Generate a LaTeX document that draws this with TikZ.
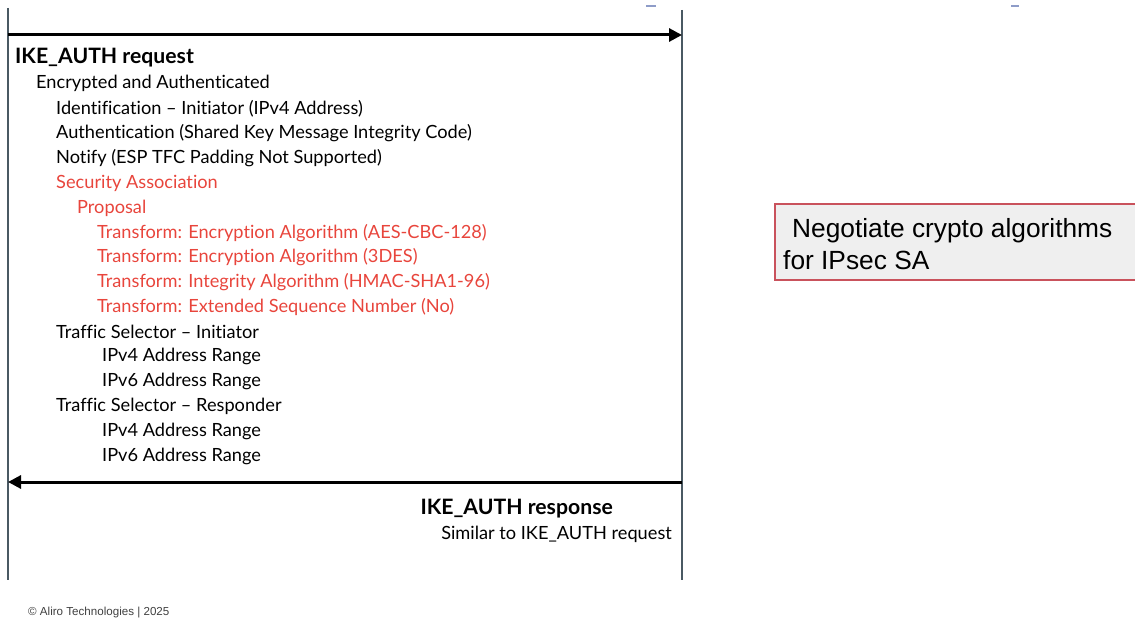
\documentclass[tikz,border=0pt]{standalone}
\usepackage{fontspec}
\setmainfont[Ligatures={NoCommon}]{Lato}
\newfontfamily\boxfont{Liberation Sans}
\usetikzlibrary{arrows.meta}
\definecolor{lifeline}{HTML}{4A5963}
\definecolor{sared}{HTML}{E8453C}
\definecolor{notefill}{HTML}{EFEFEF}
\definecolor{noteedge}{HTML}{C9525C}
\definecolor{tickblue}{HTML}{8E9CC8}
\begin{document}
\begin{tikzpicture}[x=1pt,y=-1pt,
  lifeln/.style={draw=lifeline,line width=2pt},
  msg/.style={draw=black,line width=3pt,-{Triangle[length=13pt,width=13pt]}},
  item/.style={anchor=west,inner sep=0pt,yshift=-1.5pt,font=\fontsize{18.2}{20}\selectfont},
  itemred/.style={item,text=sared},
  title/.style={inner sep=0pt,yshift=-2pt,font=\fontsize{21.2}{23}\selectfont\bfseries},
  note/.style={draw=noteedge,fill=notefill,line width=2pt},
  notetext/.style={anchor=west,inner sep=0pt,yshift=-2.5pt,font=\boxfont\fontsize{26.3}{28}\selectfont},
  tick/.style={draw=tickblue,line width=1.2pt}]
\useasboundingbox (0,0) rectangle (1135,620);
% lifelines
\coordinate (iTop) at (8,8);
\coordinate (iBot) at (8,580);
\coordinate (rTop) at (682,10);
\coordinate (rBot) at (682,580);
\draw[lifeln] (iTop) -- (iBot);
\draw[lifeln] (rTop) -- (rBot);
% small marks at the top edge
\coordinate (m1a) at (646,6); \coordinate (m1b) at (656,6);
\coordinate (m2a) at (1011,6); \coordinate (m2b) at (1019,6);
\draw[tick] (m1a) -- (m1b);
\draw[tick] (m2a) -- (m2b);
% messages
\coordinate (reqS) at (8,35); \coordinate (reqE) at (682,35);
\draw[msg] (reqS) -- (reqE);
\coordinate (resS) at (682,482); \coordinate (resE) at (8,482);
\draw[msg] (resS) -- (resE);
% request contents
\node[title,anchor=west] (req) at (15,56) {IKE\_AUTH request};
\node[item] (l1) at (36,82) {Encrypted and Authenticated};
\node[item] (l2) at (56,107) {Identification – Initiator (IPv4 Address)};
\node[item] (l3) at (56,132) {Authentication (Shared Key Message Integrity Code)};
\node[item] (l4) at (56,157) {Notify (ESP TFC Padding Not Supported)};
\node[itemred] (l5) at (56,182) {Security Association};
\node[itemred] (l6) at (77,207) {Proposal};
\node[itemred] (l7) at (97,232) {Transform: Encryption Algorithm (AES-CBC-128)};
\node[itemred] (l8) at (97,256) {Transform: Encryption Algorithm (3DES)};
\node[itemred] (l9) at (97,281) {Transform: Integrity Algorithm (HMAC-SHA1-96)};
\node[itemred] (l10) at (97,306) {Transform: Extended Sequence Number (No)};
\node[item] (l11) at (56,330) {Traffic Selector – Initiator};
\node[item] (l12) at (102,355) {IPv4 Address Range};
\node[item] (l13) at (102,380) {IPv6 Address Range};
\node[item] (l14) at (56,405) {Traffic Selector – Responder};
\node[item] (l15) at (102,430) {IPv4 Address Range};
\node[item] (l16) at (102,455) {IPv6 Address Range};
% response
\node[title,anchor=east] (res) at (613,507) {IKE\_AUTH response};
\node[item,anchor=east] (sim) at (672,533) {Similar to IKE\_AUTH request};
% note box
\path[note] (775,204) rectangle (1136,280);
\node[notetext] (n1) at (792,228) {Negotiate crypto algorithms};
\node[notetext] (n2) at (783,258) {for IPsec SA};
% footer
\node[anchor=west,inner sep=0pt,yshift=-2.5pt,text=black!75,font=\boxfont\fontsize{11.6}{13}\selectfont] (copy) at (28,610) {© Aliro Technologies | 2025};
\end{tikzpicture}
\end{document}
